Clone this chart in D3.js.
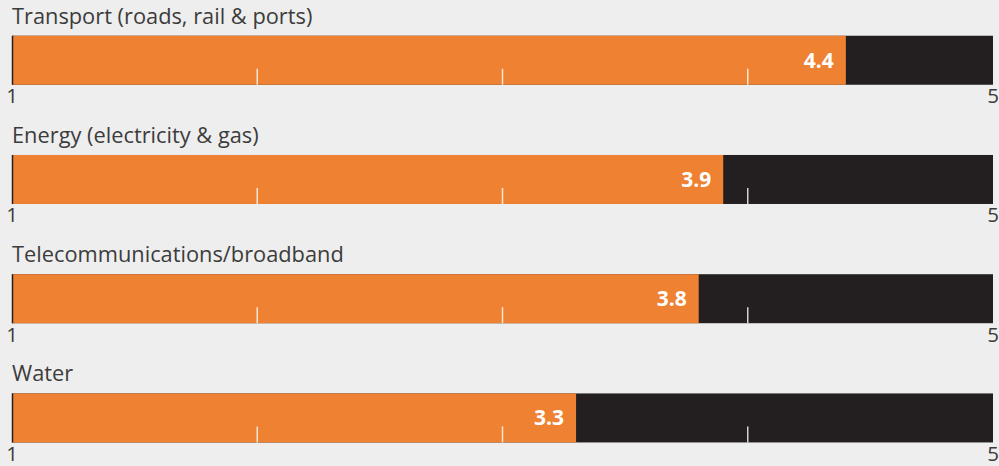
<!DOCTYPE html>
<html>
<head>
<meta charset="utf-8">
<script src="https://cdn.jsdelivr.net/npm/d3@7"></script>
<style>
  html, body { margin: 0; padding: 0; background: #eeeeee; }
  svg { display: block; }
</style>
</head>
<body>
<svg id="chart" width="999" height="466"></svg>
<script>
// Infrastructure ratings on a 1–5 scale
const categories = [
  "Transport (roads, rail & ports)",
  "Energy (electricity & gas)",
  "Telecommunications/broadband",
  "Water"
];
const scores = [4.4, 3.9, 3.8, 3.3];
const scaleMin = 1;
const scaleMax = 5;
const gridValues = [2, 3, 4];
const endLabels = ["1", "5"];

const width = 999, height = 466;
const orange = "#ef8133";
const dark = "#231f20";
const textColor = "#3c3c3c";
const barH = 49;

const svg = d3.select("#chart");
svg.append("rect").attr("width", width).attr("height", height).attr("fill", "#eeeeee");

const x = d3.scaleLinear().domain([scaleMin, scaleMax]).range([12, 993]);
const row = d3.scaleBand().domain(categories).range([35.75, 35.75 + 4 * 119.23]).padding(0);

const data = categories.map((c, i) => ({ cat: c, value: scores[i] }));

const g = svg.selectAll("g.row").data(data).join("g")
  .attr("class", "row")
  .attr("transform", d => `translate(0,${row(d.cat)})`);

// title
g.append("text")
  .attr("x", 12).attr("y", -12)
  .attr("font-family", "'Open Sans', sans-serif")
  .attr("font-size", 21.8)
  .attr("fill", textColor)
  .text(d => d.cat);

// full-range track
g.append("rect")
  .attr("x", x(scaleMin)).attr("y", 0)
  .attr("width", x(scaleMax) - x(scaleMin)).attr("height", barH)
  .attr("fill", dark);

// score bar
g.append("rect")
  .attr("x", x(scaleMin)).attr("y", 0)
  .attr("width", d => x(d.value) - x(scaleMin)).attr("height", barH)
  .attr("fill", orange);

// interior tick marks
g.selectAll("line.tick").data(gridValues).join("line")
  .attr("class", "tick")
  .attr("x1", v => x(v)).attr("x2", v => x(v))
  .attr("y1", barH - 16).attr("y2", barH)
  .attr("stroke", "#ffffff").attr("stroke-opacity", 0.8)
  .attr("stroke-width", 1.5);

// left baseline
g.append("line")
  .attr("x1", x(scaleMin) + 0.5).attr("x2", x(scaleMin) + 0.5)
  .attr("y1", 0).attr("y2", barH)
  .attr("stroke", dark).attr("stroke-width", 1.5);

// value label
g.append("text")
  .attr("x", d => x(d.value) - 12)
  .attr("y", barH / 2)
  .attr("dy", "0.36em")
  .attr("text-anchor", "end")
  .attr("font-family", "'Open Sans', sans-serif")
  .attr("font-weight", 700)
  .attr("font-size", 21)
  .attr("fill", "#ffffff")
  .text(d => d3.format(".1f")(d.value));

// end labels
g.selectAll("text.end").data([scaleMin, scaleMax]).join("text")
  .attr("class", "end")
  .attr("x", v => x(v))
  .attr("y", barH + 18.5)
  .attr("text-anchor", "middle")
  .attr("font-family", "'Open Sans', sans-serif")
  .attr("font-size", 20.5)
  .attr("fill", textColor)
  .text((v, i) => endLabels[i]);
</script>
</body>
</html>
